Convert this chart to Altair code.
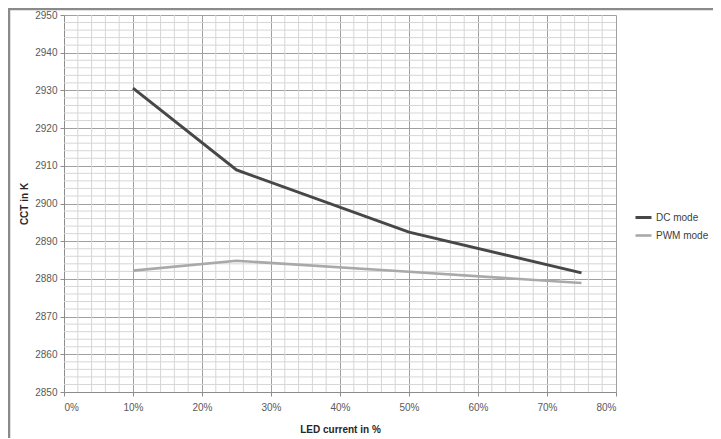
import altair as alt
import pandas as pd

# ---- data ----
led_current = [10, 25, 50, 75]            # LED current in %
dc_mode = [2930.6, 2908.9, 2892.4, 2881.6]   # CCT in K
pwm_mode = [2882.2, 2884.8, 2881.9, 2878.9]  # CCT in K
series_names = ["DC mode", "PWM mode"]
series_colors = ["#474747", "#a9a9a9"]
series_widths = [3.0, 2.6]

x_major = [0, 10, 20, 30, 40, 50, 60, 70, 80]
y_major = [2850, 2860, 2870, 2880, 2890, 2900, 2910, 2920, 2930, 2940, 2950]
x_minor = [v for v in range(0, 81, 2) if v % 10 != 0]
y_minor = [v for v in range(2850, 2951, 2) if v % 10 != 0]

FONT = "Liberation Sans"

rows = []
for name, vals in zip(series_names, [dc_mode, pwm_mode]):
    for x, y in zip(led_current, vals):
        rows.append({"current": x, "cct": y, "series": name})
df = pd.DataFrame(rows)

xscale = alt.Scale(domain=[0, 80], nice=False, zero=False)
yscale = alt.Scale(domain=[2850, 2950], nice=False, zero=False)

x_axis = alt.Axis(
    values=x_major,
    labelExpr="datum.value + '%'",
    labelOverlap=False,
    title="LED current in %",
    grid=True,
    gridColor="#a0a0a0",
    gridWidth=1,
    domainColor="#8c8c8c",
    tickColor="#8c8c8c",
    tickSize=4,
    labelPadding=6,
    titlePadding=12,
)
y_axis = alt.Axis(
    values=y_major,
    format="d",
    labelOverlap=False,
    title="CCT in K",
    grid=True,
    gridColor="#a0a0a0",
    gridWidth=1,
    domainColor="#8c8c8c",
    tickColor="#8c8c8c",
    tickSize=4,
    labelPadding=3,
    titlePadding=5,
)

minor_x = alt.Chart(pd.DataFrame({"v": x_minor})).mark_rule(
    color="#d6d6d6", strokeWidth=1
).encode(x=alt.X("v:Q", scale=xscale, axis=x_axis))

minor_y = alt.Chart(pd.DataFrame({"v": y_minor})).mark_rule(
    color="#d6d6d6", strokeWidth=1
).encode(y=alt.Y("v:Q", scale=yscale, axis=y_axis))

lines = alt.Chart(df).mark_line().encode(
    x=alt.X("current:Q", scale=xscale, axis=x_axis),
    y=alt.Y("cct:Q", scale=yscale, axis=y_axis),
    color=alt.Color(
        "series:N",
        scale=alt.Scale(domain=series_names, range=series_colors),
        legend=alt.Legend(
            title=None,
            orient="none",
            legendX=570,
            legendY=193,
            symbolType="stroke",
            symbolSize=256,
            symbolStrokeWidth=2.5,
            labelFontSize=10,
            labelFont=FONT,
            labelColor="#404040",
            rowPadding=2,
            labelOffset=3,
            padding=0,
        ),
    ),
    strokeWidth=alt.StrokeWidth(
        "series:N",
        scale=alt.Scale(domain=series_names, range=series_widths),
        legend=None,
    ),
)

# outer chart-area frame (decoration, left and top edges)
frame_top = alt.Chart(pd.DataFrame({"a": [0]})).mark_rule(
    color="#8a8a8a", strokeWidth=2.5
).encode(x=alt.value(-56), x2=alt.value(700), y=alt.value(-6))
frame_left = alt.Chart(pd.DataFrame({"a": [0]})).mark_rule(
    color="#8a8a8a", strokeWidth=2.5
).encode(x=alt.value(-55), y=alt.value(-6), y2=alt.value(440))

chart = (
    alt.layer(minor_x, minor_y, lines, frame_top, frame_left)
    .properties(
        width=552,
        height=377,
        autosize=alt.AutoSizeParams(type="none"),
        padding={"left": 56, "top": 7, "right": 97, "bottom": 46},
        background="white",
    )
    .configure_view(stroke=None)
    .configure_axis(
        labelFont=FONT,
        labelFontSize=10,
        labelColor="#595959",
        titleFont=FONT,
        titleFontSize=10,
        titleFontWeight="bold",
        titleColor="#262626",
    )
)

chart.save("out.html", embed_options={"renderer": "svg", "actions": False})
